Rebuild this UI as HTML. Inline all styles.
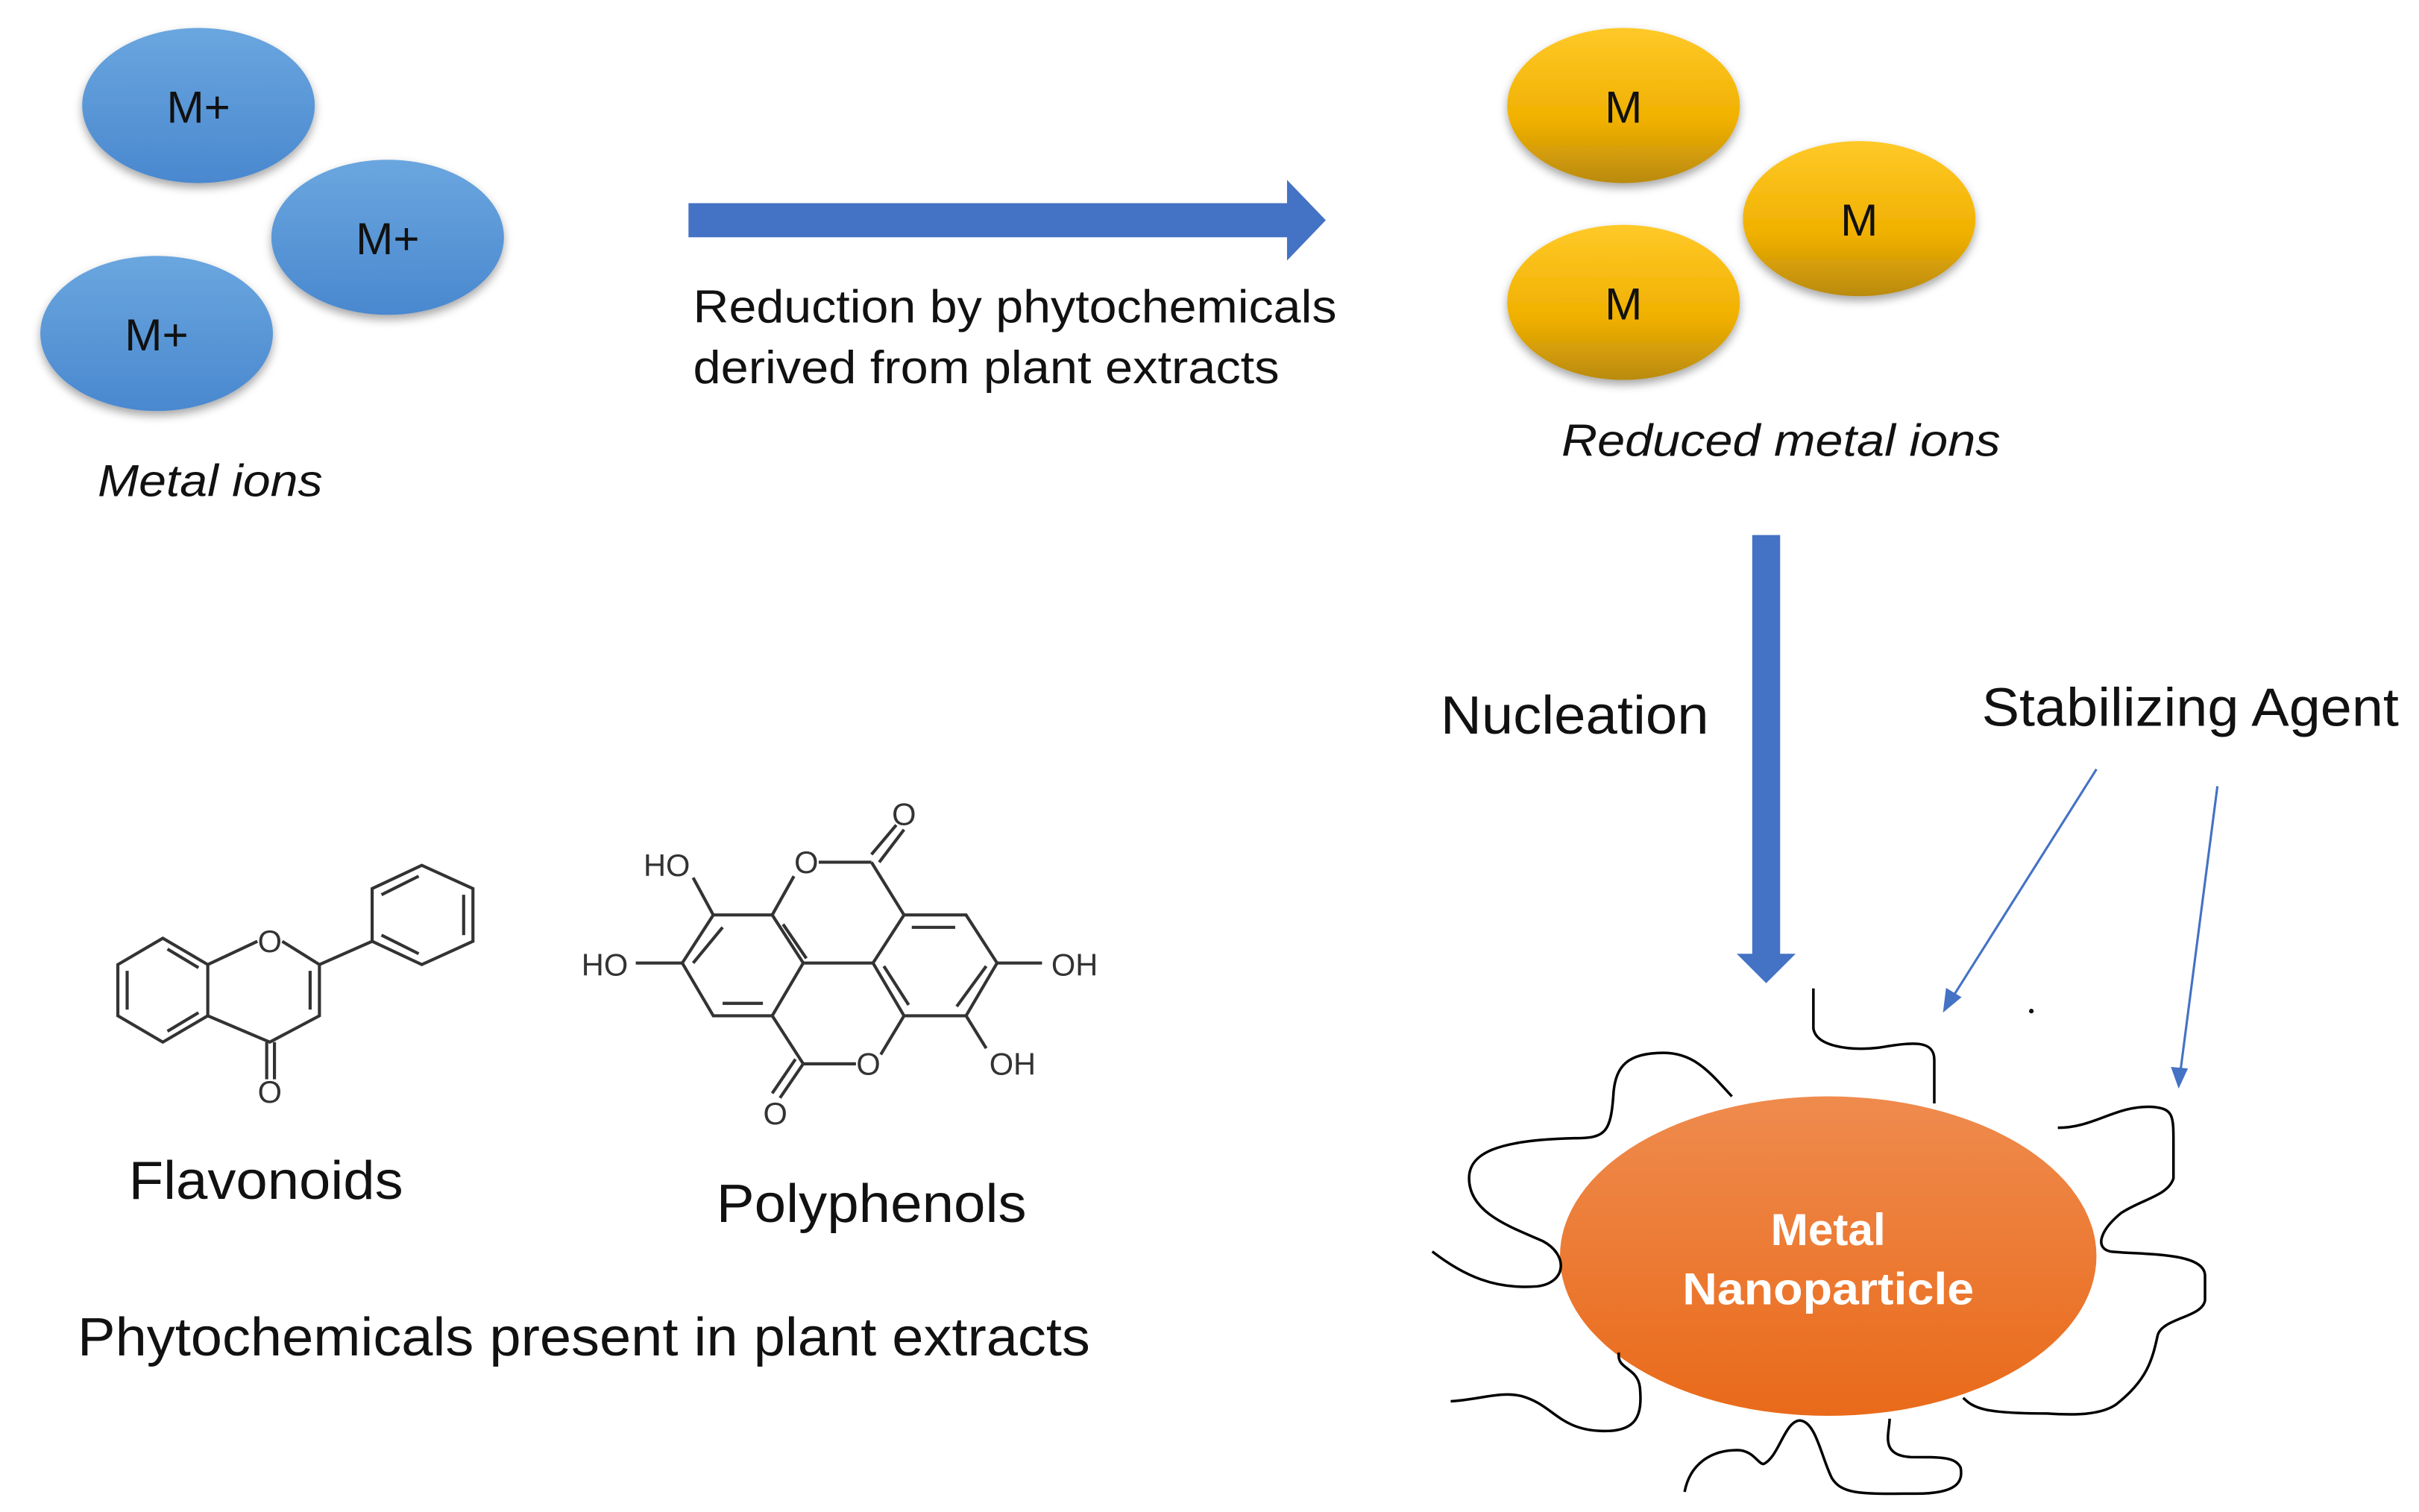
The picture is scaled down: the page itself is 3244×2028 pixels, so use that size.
<!DOCTYPE html>
<html><head><meta charset="utf-8"><style>
html,body{margin:0;padding:0;background:#fff;}
svg{display:block;}
text{font-family:"Liberation Sans",sans-serif;}
</style></head><body>
<svg width="3244" height="2028" viewBox="0 0 1560 975" preserveAspectRatio="none" xmlns="http://www.w3.org/2000/svg">
<defs>
<linearGradient id="bl" x1="0" y1="0" x2="0" y2="1"><stop offset="0" stop-color="#6aa6df"/><stop offset="1" stop-color="#4a88cf"/></linearGradient>
<linearGradient id="gd" x1="0" y1="0" x2="0" y2="1"><stop offset="0" stop-color="#ffc928"/><stop offset="0.6" stop-color="#f0b000"/><stop offset="1" stop-color="#b98a10"/></linearGradient>
<linearGradient id="or" x1="0" y1="0" x2="0" y2="1"><stop offset="0" stop-color="#ef8b4e"/><stop offset="1" stop-color="#e96a1a"/></linearGradient>
<filter id="sh" x="-20%" y="-20%" width="140%" height="150%"><feDropShadow dx="0" dy="3" stdDeviation="3" flood-color="#000" flood-opacity="0.35"/></filter>
</defs>
<rect width="1560" height="975" fill="#fff"/>
<g filter="url(#sh)">
<ellipse cx="128" cy="68" rx="75" ry="50" fill="url(#bl)"/>
<ellipse cx="250" cy="153" rx="75" ry="50" fill="url(#bl)"/>
<ellipse cx="101" cy="215" rx="75" ry="50" fill="url(#bl)"/>
</g>
<g font-size="29" text-anchor="middle" fill="#111">
<text x="128" y="79">M+</text><text x="250" y="164">M+</text><text x="101" y="226">M+</text>
</g>
<text x="63" y="320" font-size="29" font-style="italic" fill="#111" textLength="145" lengthAdjust="spacingAndGlyphs">Metal ions</text>
<polygon points="444,131 830,131 830,116 855,142 830,168 830,153 444,153" fill="#4472c4"/>
<text x="447" y="208" font-size="30" fill="#111" textLength="415" lengthAdjust="spacingAndGlyphs">Reduction by phytochemicals</text>
<text x="447" y="247" font-size="30" fill="#111" textLength="378" lengthAdjust="spacingAndGlyphs">derived from plant extracts</text>
<g filter="url(#sh)">
<ellipse cx="1047" cy="68" rx="75" ry="50" fill="url(#gd)"/>
<ellipse cx="1199" cy="141" rx="75" ry="50" fill="url(#gd)"/>
<ellipse cx="1047" cy="195" rx="75" ry="50" fill="url(#gd)"/>
</g>
<g font-size="29" text-anchor="middle" fill="#111">
<text x="1047" y="79">M</text><text x="1199" y="152">M</text><text x="1047" y="206">M</text>
</g>
<text x="1007" y="294" font-size="29" font-style="italic" fill="#111" textLength="283" lengthAdjust="spacingAndGlyphs">Reduced metal ions</text>
<polygon points="1130,345 1148,345 1148,615 1158,615 1139,634 1120,615 1130,615" fill="#4472c4"/>
<text x="929" y="473" font-size="35" fill="#111" textLength="173" lengthAdjust="spacingAndGlyphs">Nucleation</text>
<text x="1278" y="468" font-size="35" fill="#111" textLength="269" lengthAdjust="spacingAndGlyphs">Stabilizing Agent</text>
<g stroke="#4472c4" stroke-width="1.5" fill="#4472c4">
<line x1="1352" y1="496" x2="1258" y2="645"/>
<polygon points="1253,653 1255,637 1265,643" stroke="none"/>
<line x1="1430" y1="507" x2="1406" y2="692"/>
<polygon points="1405,702 1400,688 1411,689" stroke="none"/>
</g>
<circle cx="1310" cy="652" r="1.5" fill="#111"/>
<ellipse cx="1179" cy="810" rx="173" ry="103" fill="url(#or)"/>
<g font-size="29" font-weight="bold" fill="#fff" text-anchor="middle">
<text x="1179" y="803">Metal</text><text x="1179" y="841" textLength="188" lengthAdjust="spacingAndGlyphs">Nanoparticle</text>
</g>
<g transform="translate(913.5,625) scale(0.339,0.2247)" fill="none" stroke="#000" stroke-width="3.5">
<path vector-effect="non-scaling-stroke" d="M755,55 L755,170 C760,220 820,235 880,225 C940,210 985,200 985,260 L985,385"/>
<path vector-effect="non-scaling-stroke" d="M600,365 C560,300 530,240 470,240 C400,240 380,280 375,350 C370,470 360,485 300,485 C150,490 100,530 100,600 C100,700 180,740 240,780 C290,820 285,900 230,910 C150,920 90,880 30,810"/>
<path vector-effect="non-scaling-stroke" d="M65,1240 C120,1235 160,1210 200,1225 C260,1250 270,1320 350,1325 C420,1330 430,1280 425,1200 C420,1140 380,1150 385,1100"/>
<path vector-effect="non-scaling-stroke" d="M510,1500 C520,1420 560,1380 610,1380 C640,1380 650,1420 660,1420 C690,1400 700,1295 730,1295 C760,1300 770,1400 790,1460 C810,1510 850,1505 950,1505 C1030,1505 1040,1470 1035,1430 C1025,1400 1000,1400 940,1400 C880,1395 900,1330 900,1290"/>
<path vector-effect="non-scaling-stroke" d="M1220,455 C1290,455 1330,390 1400,395 C1440,400 1440,420 1440,500 L1440,600 C1430,650 1380,660 1340,700 C1300,750 1290,800 1320,810 C1380,820 1500,810 1500,880 L1500,950 C1495,1000 1420,1000 1410,1050 C1400,1120 1390,1180 1330,1250 C1300,1280 1250,1280 1200,1275 C1080,1275 1060,1260 1040,1230"/>
</g>
<g fill="none" stroke="#333" stroke-width="2">
<polygon points="105,605 134,622 134,655 105,672 76,655 76,622"/>
<line x1="82" y1="626" x2="82" y2="651"/><line x1="108" y1="612" x2="128" y2="624"/><line x1="108" y1="665" x2="128" y2="653"/>
<polyline points="134,622 166,607"/><polyline points="182,607 206,622 206,655 174,672 134,655"/>
<line x1="200" y1="626" x2="200" y2="651"/>
<line x1="172" y1="672" x2="172" y2="696"/><line x1="177" y1="672" x2="177" y2="696"/>
<line x1="206" y1="622" x2="240" y2="607"/>
<polygon points="240,607 240,573 272,558 305,573 305,607 272,622"/>
<line x1="246" y1="577" x2="270" y2="565"/><line x1="299" y1="577" x2="299" y2="603"/><line x1="246" y1="603" x2="270" y2="615"/>
</g>
<g font-size="20" fill="#333" text-anchor="middle"><text x="174" y="614">O</text><text x="174" y="711">O</text></g>
<g fill="none" stroke="#333" stroke-width="2">
<polygon points="460,590 498,590 518,621 498,655 460,655 440,621"/>
<polygon points="583,590 623,590 643,621 623,655 583,655 563,621"/>
<line x1="466" y1="598" x2="447" y2="621"/><line x1="466" y1="647" x2="492" y2="647"/><line x1="505" y1="596" x2="520" y2="618"/>
<line x1="588" y1="598" x2="616" y2="598"/><line x1="636" y1="623" x2="617" y2="649"/><line x1="570" y1="623" x2="586" y2="648"/>
<line x1="518" y1="621" x2="563" y2="621"/>
<line x1="498" y1="590" x2="512" y2="565"/><line x1="528" y1="556" x2="562" y2="556"/><line x1="562" y1="556" x2="583" y2="590"/>
<line x1="562" y1="551" x2="578" y2="532"/><line x1="567" y1="556" x2="583" y2="535"/>
<line x1="583" y1="655" x2="568" y2="680"/><line x1="552" y1="686" x2="518" y2="686"/><line x1="518" y1="686" x2="498" y2="655"/>
<line x1="518" y1="686" x2="503" y2="708"/><line x1="513" y1="683" x2="498" y2="705"/>
<line x1="460" y1="590" x2="447" y2="566"/><line x1="440" y1="621" x2="410" y2="621"/>
<line x1="643" y1="621" x2="672" y2="621"/><line x1="623" y1="655" x2="636" y2="676"/>
</g>
<g font-size="20" fill="#333" text-anchor="middle">
<text x="520" y="563">O</text><text x="583" y="532">O</text><text x="560" y="693">O</text><text x="500" y="725">O</text>
<text x="430" y="565">HO</text><text x="390" y="629">HO</text><text x="693" y="629">OH</text><text x="653" y="693">OH</text>
</g>
<text x="83" y="773" font-size="35" fill="#111" textLength="177" lengthAdjust="spacingAndGlyphs">Flavonoids</text>
<text x="462" y="788" font-size="35" fill="#111" textLength="200" lengthAdjust="spacingAndGlyphs">Polyphenols</text>
<text x="50" y="874" font-size="35" fill="#111" textLength="653" lengthAdjust="spacingAndGlyphs">Phytochemicals present in plant extracts</text>
</svg>
</body></html>
